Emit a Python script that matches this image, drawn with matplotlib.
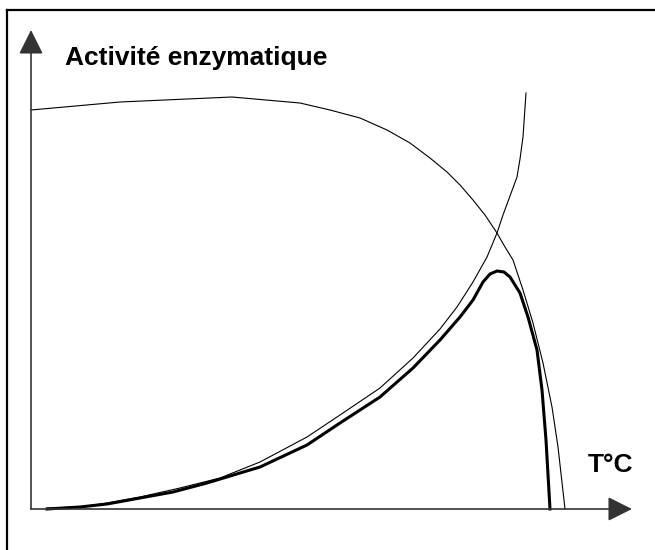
import matplotlib
matplotlib.use('Agg')
import matplotlib.pyplot as plt
from matplotlib.lines import Line2D

# Stabilité de l'enzyme (courbe fine descendante)
stab_t = [0, 8.9, 20.1, 26.9, 29.9, 32.9, 35.6, 37.9, 39.9, 41.6, 42.9, 44.2, 45.4, 46.6,
          47.4, 48.2, 49.2, 50.2, 51.2, 52.1, 52.7, 53.4]
stab_a = [99.75, 101.75, 103, 101.5, 99.75, 97.75, 94.75, 91.5, 87.75, 84.25, 81, 77.25, 73.5, 69,
          65.5, 62.25, 54.75, 46.5, 36.5, 25.5, 15.5, 0]

# Vitesse de réaction (courbe fine montante)
rate_t = [1.6, 4.9, 7.6, 10.9, 14.9, 18.9, 22.9, 27.6, 30.9, 34.9, 38.2, 40.9, 42.6, 44.2,
          45.6, 46.6, 47.2, 47.9, 48.6, 48.9, 49.2, 49.5]
rate_a = [0.25, 0.5, 1.5, 3, 5.25, 7.75, 11.75, 18, 23.5, 30.25, 37.75, 45, 50.5, 56.75,
          63, 69, 73.5, 78.25, 83, 87.5, 93, 104]

# Activité enzymatique résultante (courbe épaisse)
act_t = [1.6, 4.9, 7.6, 10.9, 14.2, 17.6, 20.9, 22.9, 27.6, 30.9, 34.9, 38.2, 40.9, 42.9,
         44.2, 45.2, 45.9, 46.6, 47.3, 47.9, 48.9, 49.7, 50.6, 51.1, 51.5, 51.9]
act_a = [0, 0.5, 1.25, 2.75, 4.25, 6.5, 9, 10.5, 16, 21.5, 28, 35.25, 42.25, 48,
         52.25, 56.75, 58.75, 59.5, 59.25, 58, 54, 48, 39.75, 29.75, 17.25, 0]

x_end = 60.1
y_end = 119.75

plt.rcParams['font.family'] = ['Liberation Sans', 'DejaVu Sans']

fig = plt.figure(figsize=(6.55, 5.5), dpi=100)
ax = fig.add_axes([0, 0, 1, 1])
ax.set_xlim(-3.1, 62.4)
ax.set_ylim(-10.25, 127.25)
ax.axis('off')

# cadre (bords gauche et haut)
fig.add_artist(Line2D([7 / 655, 7 / 655], [0, 1 - 10 / 550], color='black', lw=1.6))
fig.add_artist(Line2D([7 / 655, 1], [1 - 10 / 550, 1 - 10 / 550], color='black', lw=1.6))

arrow = dict(arrowstyle='-|>,head_length=1.0,head_width=0.5', mutation_scale=15,
             color='#333333', lw=1.2, shrinkA=0, shrinkB=0)
ax.annotate('', xy=(x_end, 0), xytext=(0, 0), arrowprops=arrow)
ax.annotate('', xy=(0, y_end), xytext=(0, 0), arrowprops=arrow)

ax.plot(stab_t, stab_a, color='black', lw=0.8)
ax.plot(rate_t, rate_a, color='black', lw=0.8)
ax.plot(act_t, act_a, color='black', lw=2.2, solid_joinstyle='round')

ax.text(3.4, 112.75, 'Activité enzymatique', fontsize=19, fontweight='bold',
        ha='left', va='center')
ax.text(60.2, 11, 'T°C', fontsize=19, fontweight='bold', ha='right', va='center')

fig.savefig('out.png', dpi=100)
